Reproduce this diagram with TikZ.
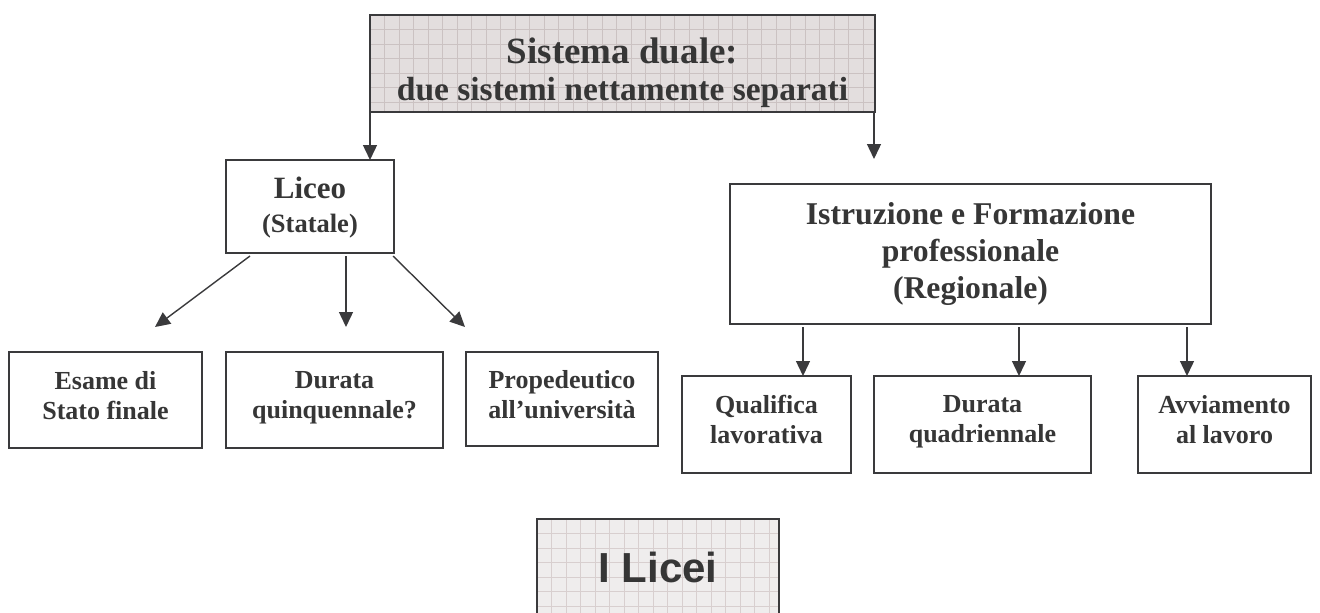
\documentclass[tikz,border=0pt]{standalone}
\usepackage{fontspec}
\setmainfont{Liberation Serif}
\newfontfamily\sansbold{Liberation Sans}
\usetikzlibrary{arrows.meta,calc,backgrounds}
\definecolor{ink}{HTML}{363636}
\definecolor{edge}{HTML}{3A3A3C}
\definecolor{topfill}{HTML}{E3DEDE}
\definecolor{topgrid}{HTML}{CBC2C2}
\definecolor{lfill}{HTML}{EFEDED}
\definecolor{lgrid}{HTML}{D8CFCF}
\newcommand\lowstrut[1]{\rule[-#1pt]{0pt}{#1pt}}
\begin{document}
\begin{tikzpicture}[x=1pt,y=-1pt,
  box/.style={draw=edge, line width=1.6pt, fill=white, text=ink, align=center, inner sep=0pt, outer sep=0pt,
    font=\bfseries\fontsize{26}{30}\selectfont},
  arr/.style={draw=edge, line width=1.4pt, -{Triangle[length=15pt,width=14pt]}},
  gridline/.style={line width=0.7pt, step=14.5pt},
]
\useasboundingbox (0,0) rectangle (1320,613);

\node[box, fill=none, line width=2.6pt, minimum width=505pt, minimum height=97pt,
  font=\bfseries\fontsize{33.5}{36.5}\selectfont] (top) at (622.5,63.5)
  {{\fontsize{37}{36.5}\selectfont\rule{0pt}{44pt}Sistema duale:}\\due sistemi nettamente separati};

\node[box, minimum width=168pt, minimum height=93pt, font=\bfseries\fontsize{26.5}{34}\selectfont] (liceo) at (310,206.5)
  {{\fontsize{31}{34}\selectfont\rule{0pt}{24.3pt}Liceo}\\(Statale)};

\node[box, minimum width=481pt, minimum height=140pt, font=\bfseries\fontsize{31.7}{37}\selectfont] (istr) at (970.5,254)
  {Istruzione e Formazione\\professionale\\(Regionale)};

\node[box, minimum width=193pt, minimum height=96pt] (esame) at (105.5,400) {Esame di\\Stato finale\lowstrut{10}};
\node[box, minimum width=217pt, minimum height=96pt] (durq) at (334.5,400) {Durata\\quinquennale?\lowstrut{10}};
\node[box, minimum width=192pt, minimum height=94pt] (prop) at (562,399) {Propedeutico\\all’università\lowstrut{9}};
\node[box, minimum width=169pt, minimum height=97pt] (qual) at (766.5,424.5) {Qualifica\\lavorativa\lowstrut{11}};
\node[box, minimum width=217pt, minimum height=97pt] (quad) at (982.5,424.5) {Durata\\quadriennale\lowstrut{11}};
\node[box, minimum width=173pt, minimum height=97pt] (avv) at (1224.5,424.5) {Avviamento\\al lavoro\lowstrut{11}};

\node[box, fill=none, line width=2.6pt, minimum width=242pt, minimum height=96pt,
  font=\sansbold\bfseries\fontsize{42}{48}\selectfont] (licei) at (658,567) {I Licei};

\begin{scope}[on background layer]
  \begin{scope}[shift={(top.north west)}]
    \fill[topfill] (0pt,0pt) rectangle (505pt,-97pt);
    \clip (0pt,0pt) rectangle (505pt,-97pt);
    \draw[topgrid, gridline] (0pt,-97pt) grid (505pt,0pt);
  \end{scope}
  \begin{scope}[shift={(licei.north west)}]
    \fill[lfill] (0pt,0pt) rectangle (242pt,-96pt);
    \clip (0pt,0pt) rectangle (242pt,-96pt);
    \draw[lgrid, gridline] (0pt,-96pt) grid (242pt,0pt);
  \end{scope}
\end{scope}

\draw[arr] (top.south west) -- ($(liceo.north west)+(144,0)$);
\draw[arr] ($(top.south east)+(-1,0)$) -- ($(istr.north)+(-96.5,-25)$);
\draw[arr] ($(liceo.south west)+(24,3)$) -- ($(esame.north)+(49.5,-25)$);
\draw[arr] ($(liceo.south)+(36,3)$) -- ($(durq.north)+(11.5,-25)$);
\draw[arr] ($(liceo.south east)+(-1,3)$) -- ($(prop.north west)+(-1,-25)$);
\draw[arr] ($(istr.south west)+(73,3)$) -- ($(qual.north)+(36.5,0)$);
\draw[arr] ($(istr.south west)+(289,3)$) -- ($(quad.north)+(36.5,0)$);
\draw[arr] ($(istr.south east)+(-24,3)$) -- ($(avv.north)+(-37.5,0)$);
\end{tikzpicture}
\end{document}
